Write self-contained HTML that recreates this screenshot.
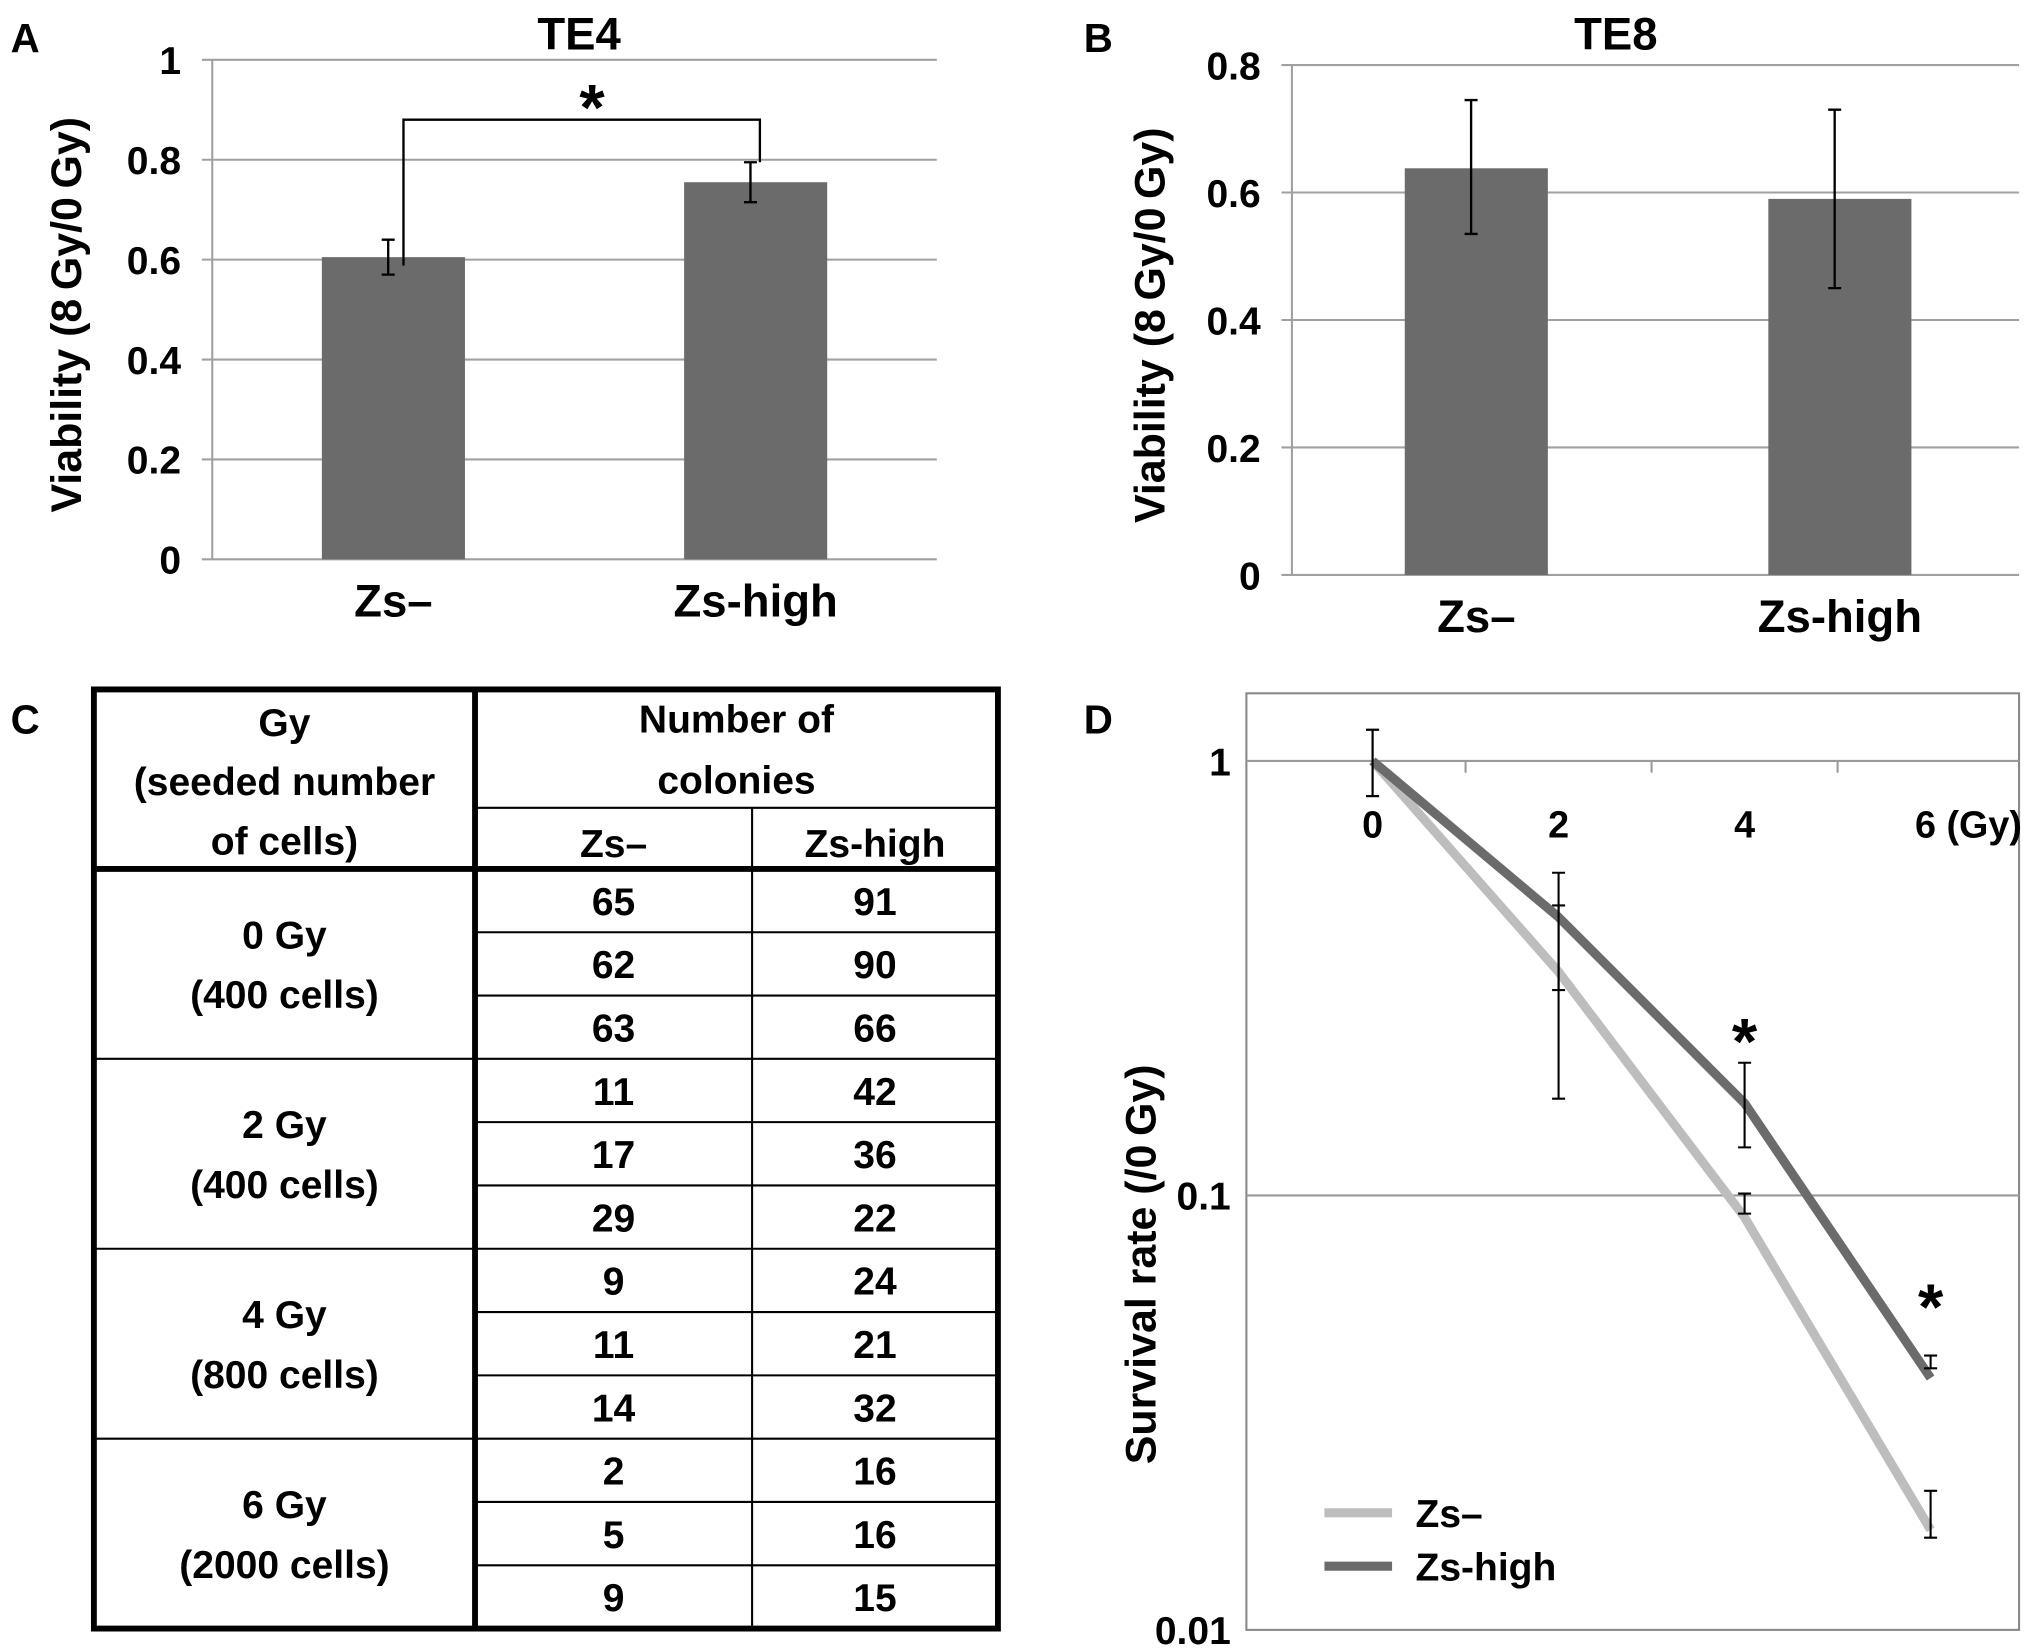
<!DOCTYPE html>
<html><head><meta charset="utf-8"><style>
html,body{margin:0;padding:0;background:#fff;}
svg{display:block;}
text{font-family:"Liberation Sans",sans-serif;font-weight:bold;fill:#000;}
</style></head><body>
<svg id="fig" width="2031" height="1652" viewBox="0 0 1561 1270" xmlns="http://www.w3.org/2000/svg">
<rect width="1561" height="1270" fill="#fff"/>
<g id="pa"></g>
<g id="pb"></g>
<g id="pc"></g>
<g id="pd"></g>
</svg>
<script>
// Panel A data
const aCats = ["Zs\u2013","Zs-high"];
const aVals = [0.605, 0.755];
const aErrLo = [0.57, 0.715];
const aErrHi = [0.64, 0.795];
const aTicks = [0,0.2,0.4,0.6,0.8,1];
const aTickLabels = ["0","0.2","0.4","0.6","0.8","1"];
// Panel B data
const bCats = ["Zs\u2013","Zs-high"];
const bVals = [0.638, 0.59];
const bErrLo = [0.535, 0.45];
const bErrHi = [0.745, 0.73];
const bTicks = [0,0.2,0.4,0.6,0.8];
const bTickLabels = ["0","0.2","0.4","0.6","0.8"];
// Panel C table
const cGroups = ["0 Gy","2 Gy","4 Gy","6 Gy"];
const cSeeds = ["(400 cells)","(400 cells)","(800 cells)","(2000 cells)"];
const cZsNeg = [65,62,63,11,17,29,9,11,14,2,5,9];
const cZsHigh = [91,90,66,42,36,22,24,21,32,16,16,15];
// Panel D data
const dDoses = [0,2,4,6];
const dDoseLabels = ["0","2","4","6 (Gy)"];
const dNeg = [1, 0.327, 0.089, 0.017];
const dNegLo = [0.83, 0.167, 0.0908, 0.0163];
const dNegHi = [1.18, 0.465, 0.101, 0.0209];
const dHigh = [1, 0.437, 0.163, 0.038];
const dHighLo = [0.83, 0.297, 0.129, 0.040];
const dHighHi = [1.18, 0.553, 0.202, 0.0428];
const dTicks = [1, 0.1, 0.01];
const dTickLabels = ["1","0.1","0.01"];

const NS="http://www.w3.org/2000/svg";
function mk(parent,tag,attrs,txt){const e=document.createElementNS(NS,tag);for(const k in attrs)e.setAttribute(k,attrs[k]);if(txt!==undefined)e.textContent=txt;parent.appendChild(e);return e;}

function barPanel(g,cfg){
  const y=v=>cfg.y0-(v/cfg.ymax)*(cfg.y0-cfg.yTop);
  cfg.ticks.forEach((t,i)=>{
    const gl=mk(g,'line',{x1:cfg.x0-8,x2:cfg.x1,y1:y(t),y2:y(t),stroke:'#a0a0a0','stroke-width':1.6});
    
    
    const tl=mk(g,'text',{x:cfg.x0-24,y:y(t)+11,'text-anchor':'end','font-size':30},cfg.tickLabels[i]);
    
    
  });
  const ax=mk(g,'line',{x1:cfg.x0,x2:cfg.x0,y1:cfg.yTop,y2:cfg.y0,stroke:'#a0a0a0','stroke-width':1.6});
  
  
  const slot=(cfg.x1-cfg.x0)/cfg.cats.length;
  cfg.cats.forEach((c,i)=>{
    const cx=cfg.x0+slot*(i+0.5)+cfg.shift;
    const b=mk(g,'rect',{x:cx-55,y:y(cfg.vals[i]),width:110,height:cfg.y0-y(cfg.vals[i]),fill:'#6b6b6b'});
    
    
    const ex=cx-4;
    const e=mk(g,'path',{d:`M${ex},${y(cfg.hi[i])}V${y(cfg.lo[i])}M${ex-5},${y(cfg.hi[i])}h10M${ex-5},${y(cfg.lo[i])}h10`,stroke:'#000','stroke-width':1.8,fill:'none'});
    
    
    const l=mk(g,'text',{x:cx,y:cfg.y0+44,'text-anchor':'middle','font-size':35},c);
    
    
  });
  const t=mk(g,'text',{x:cfg.titleX,y:38,'text-anchor':'middle','font-size':35},cfg.title);
  
  
  const yt=mk(g,'text',{x:0,y:0,'text-anchor':'middle','font-size':33,transform:`translate(${cfg.ylabX},${(cfg.y0+cfg.yTop)/2+4}) rotate(-90)`},'Viability (8\u2009Gy/0\u2009Gy)');
  
  
  const pl=mk(g,'text',{x:cfg.letterX,y:40,'font-size':31},cfg.letter);
  
  
  return y;
}
const ga=document.getElementById('pa');
const ya=barPanel(ga,{x0:163,x1:720,y0:430,yTop:46,ymax:1,ticks:aTicks,tickLabels:aTickLabels,cats:aCats,vals:aVals,lo:aErrLo,hi:aErrHi,shift:0,title:'TE4',titleX:445,ylabX:62,letter:'A',letterX:8});
const br=mk(ga,'path',{d:`M310,${ya(aErrHi[0])+20}V92H584V${ya(aErrHi[1])}`,stroke:'#000','stroke-width':1.8,fill:'none'});


const st=mk(ga,'text',{x:455,y:100,'text-anchor':'middle','font-size':50},'*');



const gb=document.getElementById('pb');
barPanel(gb,{x0:993,x1:1552,y0:442,yTop:50,ymax:0.8,ticks:bTicks,tickLabels:bTickLabels,cats:bCats,vals:bVals,lo:bErrLo,hi:bErrHi,shift:2,title:'TE8',titleX:1242,ylabX:895,letter:'B',letterX:833});

// Panel C
const gc=document.getElementById('pc');
const cl=mk(gc,'text',{x:8,y:564,'font-size':31},'C');


const T={l:72,r:767,t:530,b:1252,mid:365,c2:578,h1:621,h2:668};
const rowH=(T.b-T.h2)/cZsNeg.length;
cZsNeg.forEach((v,i)=>{
  const cy=T.h2+rowH*(i+0.5);
  const a=mk(gc,'text',{x:(T.mid+T.c2)/2,y:cy+11,'text-anchor':'middle','font-size':30},String(v));
  
  
  const b=mk(gc,'text',{x:(T.c2+T.r)/2,y:cy+11,'text-anchor':'middle','font-size':30},String(cZsHigh[i]));
  
  
  if(i>0){
    const x1=(i%3===0)?T.l:T.mid;
    const ln=mk(gc,'line',{x1:x1,x2:T.r,y1:T.h2+rowH*i,y2:T.h2+rowH*i,stroke:'#000','stroke-width':1.6});
    
    
  }
});
cGroups.forEach((g,i)=>{
  const cy=T.h2+rowH*3*(i+0.5);
  const a=mk(gc,'text',{x:(T.l+T.mid)/2,y:cy-12,'text-anchor':'middle','font-size':30},g);
  
  
  const b=mk(gc,'text',{x:(T.l+T.mid)/2,y:cy+34,'text-anchor':'middle','font-size':30},cSeeds[i]);
  
  
});
[['Gy',566],['(seeded number',611],['of cells)',657]].forEach(([t,yy])=>{
  const e=mk(gc,'text',{x:(T.l+T.mid)/2,y:yy,'text-anchor':'middle','font-size':30},t);
  
  
});
[['Number of',563],['colonies',610]].forEach(([t,yy])=>{
  const e=mk(gc,'text',{x:(T.mid+T.r)/2,y:yy,'text-anchor':'middle','font-size':30},t);
  
  
});
[['Zs\u2013',(T.mid+T.c2)/2],['Zs-high',(T.c2+T.r)/2]].forEach(([t,xx])=>{
  const e=mk(gc,'text',{x:xx,y:659,'text-anchor':'middle','font-size':30},t);
  
  
});
const lines=[
 ['table-border',`M${T.l},${T.t}H${T.r}V${T.b}H${T.l}Z`,4.5],
 ['header-bottom',`M${T.l},${T.h2}H${T.r}`,4.5],
 ['column-divider',`M${T.mid},${T.t}V${T.b}`,4.5],
 ['subheader-line',`M${T.mid},${T.h1}H${T.r}`,1.6],
 ['inner-column-line',`M${T.c2},${T.h1}V${T.b}`,1.6]];
lines.forEach(([n,d,w])=>{
  const e=mk(gc,'path',{d:d,stroke:'#000','stroke-width':w,fill:'none'});
  
  
});

// Panel D
const gd=document.getElementById('pd');
const dl=mk(gd,'text',{x:833,y:564,'font-size':31},'D');


const D={l:958,r:1552,t:533,b:1253,y1:585,decade:334,x0:1055,dx:143};
const yD=v=>D.y1+(-Math.log10(v))*D.decade;
const xD=d=>D.x0+(d/2)*D.dx;
const fr=mk(gd,'rect',{x:D.l,y:D.t,width:D.r-D.l,height:D.b-D.t,fill:'none',stroke:'#888','stroke-width':1.6});


dTicks.forEach((t,i)=>{
  if(t!==0.01){
    const gl=mk(gd,'line',{x1:D.l,x2:D.r,y1:yD(t),y2:yD(t),stroke:'#999','stroke-width':1.6});
    
    
  }
  const tl=mk(gd,'text',{x:D.l-12,y:yD(t)+11,'text-anchor':'end','font-size':30},dTickLabels[i]);
  
  
});
dDoses.forEach((d,i)=>{
  if(i<dDoses.length-1){
    const tk=mk(gd,'line',{x1:xD(d+1),x2:xD(d+1),y1:D.y1,y2:D.y1+9,stroke:'#999','stroke-width':1.6});
    
    
  }
  const tl=mk(gd,'text',{x:i===dDoses.length-1?xD(d)-12:xD(d),y:644,'text-anchor':i===dDoses.length-1?'start':'middle','font-size':29},dDoseLabels[i]);
  
  
});
function series(vals,lo,hi,color,name){
  const pts=dDoses.map((d,i)=>`${xD(d)},${yD(vals[i])}`).join(' ');
  const pl=mk(gd,'polyline',{points:pts,fill:'none',stroke:color,'stroke-width':7,'stroke-linejoin':'round'});
  
  
  dDoses.forEach((d,i)=>{
    const x=xD(d);
    const e=mk(gd,'path',{d:`M${x},${yD(hi[i])}V${yD(lo[i])}M${x-5},${yD(hi[i])}h10M${x-5},${yD(lo[i])}h10`,stroke:'#000','stroke-width':1.6,fill:'none'});
    
    
  });
}
series(dNeg,dNegLo,dNegHi,'#bdbdbd','zs-neg');
series(dHigh,dHighLo,dHighHi,'#6b6b6b','zs-high');
[[4,818],[6,1022]].forEach(([d,yy])=>{
  const s=mk(gd,'text',{x:xD(d),y:yy,'text-anchor':'middle','font-size':50},'*');
  
  
});
const yt=mk(gd,'text',{x:0,y:0,'text-anchor':'middle','font-size':33,transform:`translate(888,972) rotate(-90)`},'Survival rate (/0\u2009Gy)');


[['Zs\u2013','#bdbdbd',1163],['Zs-high','#6b6b6b',1204]].forEach(([t,c,yy])=>{
  const sw=mk(gd,'line',{x1:1018,x2:1070,y1:yy,y2:yy,stroke:c,'stroke-width':7});
  
  
  const lt=mk(gd,'text',{x:1088,y:yy+11,'font-size':30},t);
  
  
});
</script>
</body></html>
